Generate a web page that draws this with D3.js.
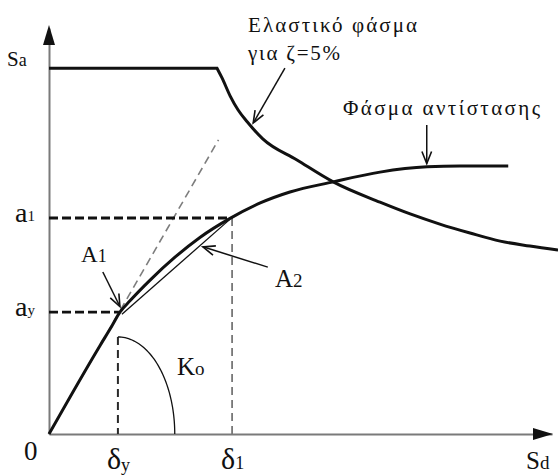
<!DOCTYPE html>
<html>
<head>
<meta charset="utf-8">
<script src="https://cdn.jsdelivr.net/npm/d3@7"></script>
<style>
  html, body { margin: 0; padding: 0; background: #fff; }
  svg { display: block; }
  text { font-family: "Liberation Serif", "Times New Roman", serif; fill: #111; }
</style>
</head>
<body>
<svg id="chart" width="558" height="476"></svg>
<script>
// Capacity-spectrum diagram: elastic demand spectrum against the resistance spectrum (Sa–Sd)
const sdDomain = [0, 10];
const saDomain = [0, 10];

// Elastic spectrum for ζ = 5%: plateau, then descending branch
const elasticPlateauSa = 9.01;
const elasticSd = [3.34, 3.44, 3.60, 3.76, 3.94, 4.25, 4.93, 5.65, 6.58, 7.18, 7.77, 8.37, 8.97, 9.56, 10.12];
const elasticSa = [9.01, 8.77, 8.33, 7.98, 7.69, 7.27, 6.75, 6.21, 5.71, 5.42, 5.17, 4.95, 4.75, 4.63, 4.53];

// Resistance (capacity) spectrum
const capacitySd = [0, 1.01, 1.25, 1.41, 1.61, 2.01, 2.51, 3.00, 3.60, 4.20, 4.79, 5.65, 6.58, 7.52, 8.17, 9.13];
const capacitySa = [0, 2.17, 2.66, 3.00, 3.28, 3.79, 4.36, 4.84, 5.31, 5.69, 5.96, 6.21, 6.45, 6.58, 6.60, 6.60];

// Yield and trial points, initial stiffness Ko
const deltaY = 1.37, deltaOne = 3.64;
const aY = 3.00, aOne = 5.32;
const yieldSd = 1.41;
const trialSd = 3.56;
const initialStiffness = 2.15;
const stiffnessLineEnd = 3.37;
const koArcRadius = [1.13, 2.39];

// Axis tick labels (base symbol + subscript)
const sdTickLabels = [
  { base: "δ", sub: "y", value: deltaY },
  { base: "δ", sub: "1", value: deltaOne }
];
const saTickLabels = [
  { base: "a", sub: "y", value: aY },
  { base: "a", sub: "1", value: aOne }
];

const svg = d3.select("#chart");
const x = d3.scaleLinear().domain(sdDomain).range([49, 552]);
const y = d3.scaleLinear().domain(saDomain).range([434, 28]);

const line = d3.line().x(d => x(d[0])).y(d => y(d[1]));
const smooth = d3.line().x(d => x(d[0])).y(d => y(d[1])).curve(d3.curveMonotoneX);

// ---- Axes ----
const xAxis = svg.append("g")
  .attr("transform", `translate(0,${y(0)})`)
  .call(d3.axisBottom(x).tickValues([]).tickSizeOuter(0));
const yAxis = svg.append("g")
  .attr("transform", `translate(${x(0)},0)`)
  .call(d3.axisLeft(y).tickValues([]).tickSizeOuter(0));
[xAxis, yAxis].forEach(g => g.select(".domain").attr("stroke", "#7a7a7a").attr("stroke-width", 2));

// arrowheads
const xe = x(sdDomain[1]), ye = y(saDomain[1]);
svg.append("path")
  .attr("d", `M${xe + 1},${y(0)} L${xe - 19},${y(0) - 6} L${xe - 19},${y(0) + 6} Z`)
  .attr("fill", "#111");
svg.append("path")
  .attr("d", `M${x(0)},${ye - 3} L${x(0) - 6},${ye + 17} L${x(0) + 6},${ye + 17} Z`)
  .attr("fill", "#111");

// ---- Guide lines ----
// initial stiffness Ko
svg.append("path")
  .attr("d", line([[0, 0], [stiffnessLineEnd, initialStiffness * stiffnessLineEnd]]))
  .attr("fill", "none").attr("stroke", "#7d7d7d").attr("stroke-width", 1.6)
  .attr("stroke-dasharray", "8,5");

// ay / a1 horizontal dashes
svg.append("path")
  .attr("d", line([[0, aY], [yieldSd - 0.02, aY]]))
  .attr("stroke", "#111").attr("stroke-width", 2.8).attr("stroke-dasharray", "9,4");
svg.append("path")
  .attr("d", line([[0, aOne], [trialSd, aOne]]))
  .attr("stroke", "#111").attr("stroke-width", 2.8).attr("stroke-dasharray", "9,4");

// δy / δ1 vertical dashes
svg.append("path")
  .attr("d", line([[deltaY, koArcRadius[1]], [deltaY, 0]]))
  .attr("stroke", "#2a2a2a").attr("stroke-width", 2).attr("stroke-dasharray", "8,5");
svg.append("path")
  .attr("d", line([[deltaOne, aOne], [deltaOne, 0]]))
  .attr("stroke", "#777").attr("stroke-width", 1.8).attr("stroke-dasharray", "8,5");

// Ko angle arc
const arcPts = d3.range(0, 1.0001, 0.02).map(t => {
  const a = t * Math.PI / 2;
  return [deltaY + koArcRadius[0] * Math.sin(a), koArcRadius[1] * Math.cos(a)];
});
svg.append("path")
  .attr("d", line(arcPts))
  .attr("fill", "none").attr("stroke", "#111").attr("stroke-width", 1.3);

// bilinear chord between the yield point and the trial point
svg.append("path")
  .attr("d", line([[yieldSd + 0.04, aY - 0.05], [trialSd + 0.03, aOne - 0.04]]))
  .attr("stroke", "#111").attr("stroke-width", 1.3);

// ---- Spectra ----
const elasticPts = elasticSd.map((d, i) => [d, elasticSa[i]]);
const elasticPath = line([[0, elasticPlateauSa], elasticPts[0]]) +
  smooth(elasticPts).replace(/^M/, "L");
svg.append("path")
  .attr("d", elasticPath)
  .attr("fill", "none").attr("stroke", "#111").attr("stroke-width", 3);

const capacityPts = capacitySd.map((d, i) => [d, capacitySa[i]]);
svg.append("path")
  .attr("d", smooth(capacityPts))
  .attr("fill", "none").attr("stroke", "#111").attr("stroke-width", 3);

// ---- Annotation arrows ----
function arrow(from, to) {
  const x1 = x(from[0]), y1 = y(from[1]), x2 = x(to[0]), y2 = y(to[1]);
  const ang = Math.atan2(y2 - y1, x2 - x1);
  const len = 13, spread = 0.38;
  const p1 = [x2 - len * Math.cos(ang - spread), y2 - len * Math.sin(ang - spread)];
  const p2 = [x2 - len * Math.cos(ang + spread), y2 - len * Math.sin(ang + spread)];
  svg.append("path")
    .attr("d", `M${x1},${y1} L${x2},${y2}`)
    .attr("stroke", "#111").attr("stroke-width", 1.5);
  svg.append("path")
    .attr("d", `M${p1[0]},${p1[1]} L${x2},${y2} L${p2[0]},${p2[1]}`)
    .attr("fill", "none").attr("stroke", "#111").attr("stroke-width", 1.6);
}
arrow([4.69, 9.01], [4.06, 7.66]);   // elastic spectrum label
arrow([7.51, 7.61], [7.51, 6.66]);   // resistance spectrum label
arrow([1.07, 3.99], [1.41, 3.14]);   // A1
arrow([4.35, 4.11], [3.06, 4.61]);   // A2

// ---- Text ----
function subText(px, py, base, sub, baseSize, subSize, subDy) {
  const t = svg.append("text").attr("x", px).attr("y", py).attr("font-size", baseSize);
  t.append("tspan").text(base);
  t.append("tspan").attr("font-size", subSize).attr("dy", subDy).text(sub);
  return t;
}

// axis titles
subText(7, 66, "S", "a", 21, 18, 0);
subText(526, 469, "S", "d", 25, 19, 0);
svg.append("text").attr("x", 24).attr("y", 460).attr("font-size", 27).text("0");

// tick labels on the axes
saTickLabels.forEach(d => subText(15, y(d.value) + 4, d.base, d.sub, 28, 15, -1));
sdTickLabels.forEach(d => subText(x(d.value) - 11, 469, d.base, d.sub, 30, 18, d.sub === "y" ? 2 : 0));

// point labels
subText(81, 262, "A", "1", 23, 18, 0);
subText(275, 287, "A", "2", 25, 19, 0);
subText(177, 375, "K", "o", 25, 19, 0);

// curve labels
svg.append("text").attr("x", 248).attr("y", 32).attr("font-size", 21)
  .attr("textLength", 169).attr("lengthAdjust", "spacing").text("Ελαστικό φάσμα");
svg.append("text").attr("x", 248).attr("y", 60).attr("font-size", 21)
  .attr("textLength", 92).attr("lengthAdjust", "spacing").text("για ζ=5%");
svg.append("text").attr("x", 343).attr("y", 115).attr("font-size", 21)
  .attr("textLength", 197).attr("lengthAdjust", "spacing").text("Φάσμα αντίστασης");
</script>
</body>
</html>
